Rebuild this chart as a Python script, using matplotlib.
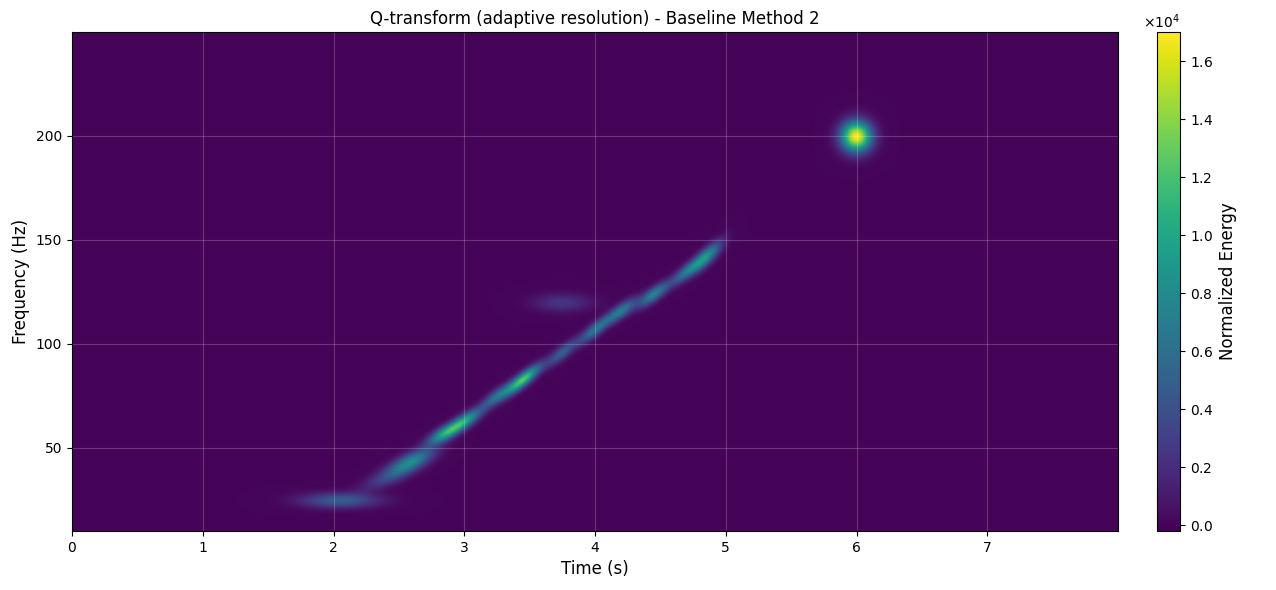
import numpy as np
import matplotlib
matplotlib.use("Agg")
import matplotlib.pyplot as plt

# blob components: time (s), frequency (Hz), peak energy
blob_t = [2.05, 2.45, 2.6, 2.85, 3.0, 3.25, 3.45, 3.75, 4.0, 4.2, 4.45, 4.7, 4.85, 3.75, 6.0]
blob_f = [25, 37, 44, 57, 63, 75, 83, 96, 107, 116, 124, 135, 142, 120, 200]
blob_e = [5000, 3500, 7000, 9000, 9500, 6000, 12500, 5000, 6500, 7000, 7500, 6000, 8500, 2500, 17000]
blob_len = [0.2, 0.15, 0.12, 0.09, 0.09, 0.08, 0.09, 0.08, 0.08, 0.08, 0.08, 0.08, 0.08, 0.15, 0.08]
blob_slope = [0, 25, 25, 30, 35, 40, 45, 45, 45, 40, 40, 45, 50, 0, 0]
blob_fw = [2.5, 3, 3, 2.5, 2.5, 2.5, 2.5, 2.5, 2.5, 2.5, 2.5, 2.5, 3, 3, 5]

t = np.linspace(0, 8, 800)
f = np.linspace(10, 250, 600)
T, F = np.meshgrid(t, f)
E = np.zeros_like(T)
for bt, bf, be, bl, bs, bw in zip(blob_t, blob_f, blob_e, blob_len, blob_slope, blob_fw):
    dt = T - bt
    df = F - (bf + bs * dt)
    E += be * np.exp(-0.5 * (dt / bl) ** 2 - 0.5 * (df / bw) ** 2)

fig = plt.figure(figsize=(12.76, 5.9), dpi=100)
ax = fig.add_axes([72/1276, 1-531/590, (1118-72)/1276, (531-32)/590])
cax = fig.add_axes([1157/1276, 1-531/590, 23/1276, (531-32)/590])
im = ax.pcolormesh(t, f, E, cmap="viridis", shading="gouraud", vmin=-200, vmax=17000)
ax.set_xlim(0, 8)
ax.set_ylim(10, 250)
ax.set_xticks(range(8))
ax.set_yticks([50, 100, 150, 200])
ax.grid(True, color="white", alpha=0.2)
ax.set_xlabel("Time (s)", fontsize=12)
ax.set_ylabel("Frequency (Hz)", fontsize=12)
ax.set_title("Q-transform (adaptive resolution) - Baseline Method 2", fontsize=12)
cb = fig.colorbar(im, cax=cax)
cb.set_label("Normalized Energy", fontsize=12)
cb.formatter.set_powerlimits((0, 0))
cb.formatter.set_useMathText(True)
cb.set_ticks(np.arange(0, 17000, 2000))
fig.savefig("out.png", dpi=100)
